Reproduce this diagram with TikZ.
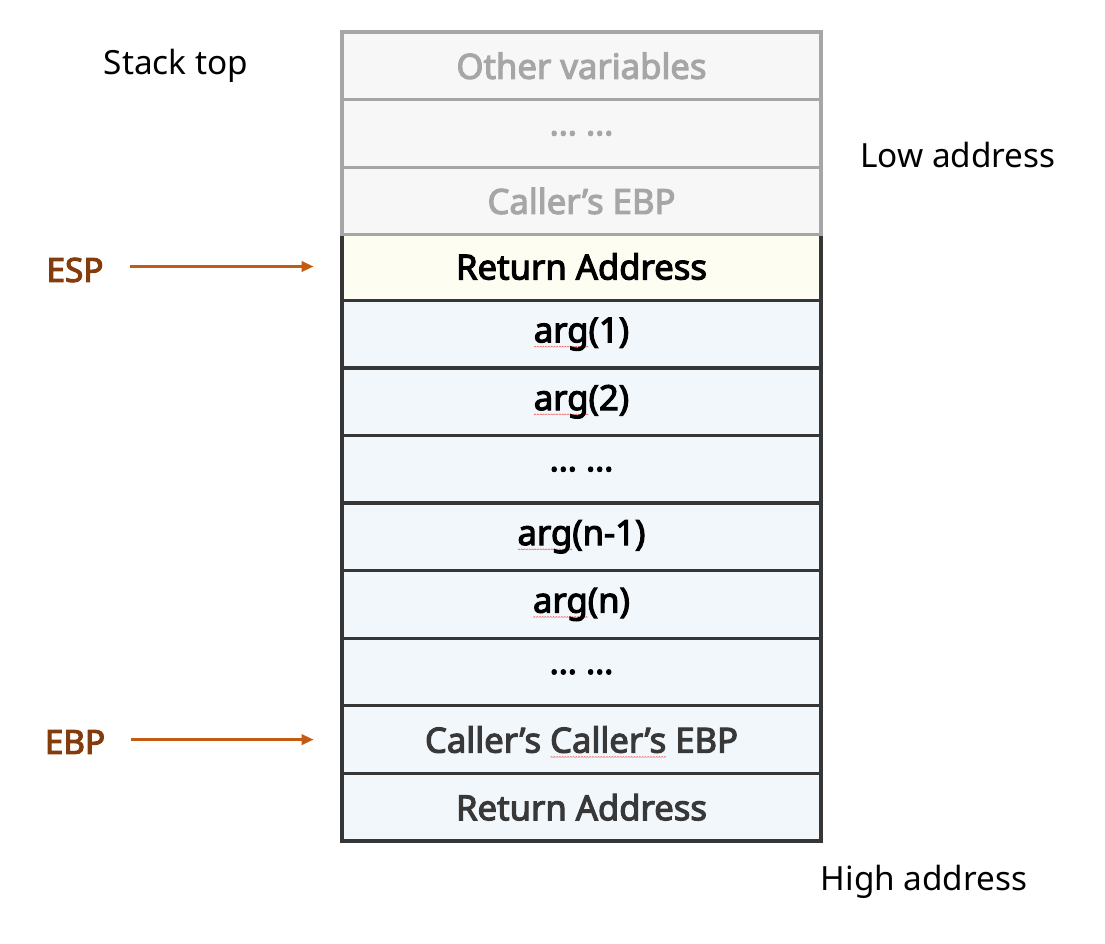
\documentclass[tikz,border=0pt]{standalone}
\usepackage{fontspec}
\setmainfont{Noto Sans}
\newfontfamily\boldfont{Noto Sans}[FakeBold=3.2]
\usetikzlibrary{arrows.meta}
\definecolor{gborder}{HTML}{A6A6A6}
\definecolor{gfill}{HTML}{F7F7F7}
\definecolor{gtext}{HTML}{A6A6A6}
\definecolor{dborder}{HTML}{363636}
\definecolor{yfill}{HTML}{FEFDF2}
\definecolor{bfill}{HTML}{F2F7FC}
\definecolor{dtext}{HTML}{383838}
\definecolor{ptrtext}{HTML}{843C0C}
\definecolor{ptrline}{HTML}{C55A11}
\definecolor{wavecol}{HTML}{F06A6A}
\newsavebox\sqbox
\newcommand\sq[1]{\sbox\sqbox{#1}\rlap{\raisebox{-3.6pt}[0pt][0pt]{\hbox to \wd\sqbox{\xleaders\hbox{\tikz[baseline=0pt]\draw[wavecol,line width=0.45pt] (0,0)--(0.8pt,0.7pt)--(1.6pt,0);}\hfill}}}\usebox\sqbox}
\begin{document}
\begin{tikzpicture}[x=0.75pt,y=-0.75pt,
  cell/.style={draw, line width=2.4pt, minimum width=359.25pt, minimum height=50.69pt,
    inner sep=0pt, font=\fontsize{26}{28}\boldfont},
  grey/.style={cell, draw=gborder, fill=gfill, text=gtext},
  dark/.style={cell, draw=dborder, fill=bfill, text=black},
  side/.style={font=\fontsize{25}{28}\selectfont},
  ptrlab/.style={font=\fontsize{25}{27}\boldfont, text=ptrtext},
  ptr/.style={draw=ptrline, line width=2.3pt, -{Triangle[length=9pt,width=7.5pt]}}]
\path[use as bounding box] (0,0) rectangle (1105,943);
% dark rows
\node[dark, fill=yfill] (r4) at (581.5,266.5) {Return Address};
\node[dark] (r5) at (581.5,334.1) {\sq{arg}(1)};
\node[dark] (r6) at (581.5,401.7) {\sq{arg}(2)};
\node[dark] (r7) at (581.5,469.3) {\dots\ \dots};
\node[dark] (r8) at (581.5,536.8) {\sq{arg}(n-1)};
\node[dark] (r9) at (581.5,604.4) {\sq{arg}(n)};
\node[dark] (r10) at (581.5,672.0) {\dots\ \dots};
\node[dark, text=dtext] (r11) at (581.5,739.6) {Caller’s \sq{Caller’s} EBP};
\node[dark, text=dtext] (r12) at (581.5,807.2) {Return Address};
% grey rows
\node[grey] (r1) at (581.5,65.8) {Other variables};
\node[grey] (r2) at (581.5,133.4) {\dots\ \dots};
\node[grey] (r3) at (581.5,200.9) {Caller’s EBP};
% side labels
\node[side] (top) at (176,66) {Stack top};
\node[side] (low) at (958,155) {Low address};
\node[side] (high) at (924,882) {High address};
% pointers
\node[ptrlab] (esp) at (75,270) {ESP};
\node[ptrlab] (ebp) at (75,742) {EBP};
\draw[ptr, shorten <=16pt, shorten >=20pt] (esp.east |- r4.west) -- (r4.west);
\draw[ptr, shorten <=16pt, shorten >=20pt] (ebp.east |- r11.west) -- (r11.west);
\end{tikzpicture}
\end{document}
